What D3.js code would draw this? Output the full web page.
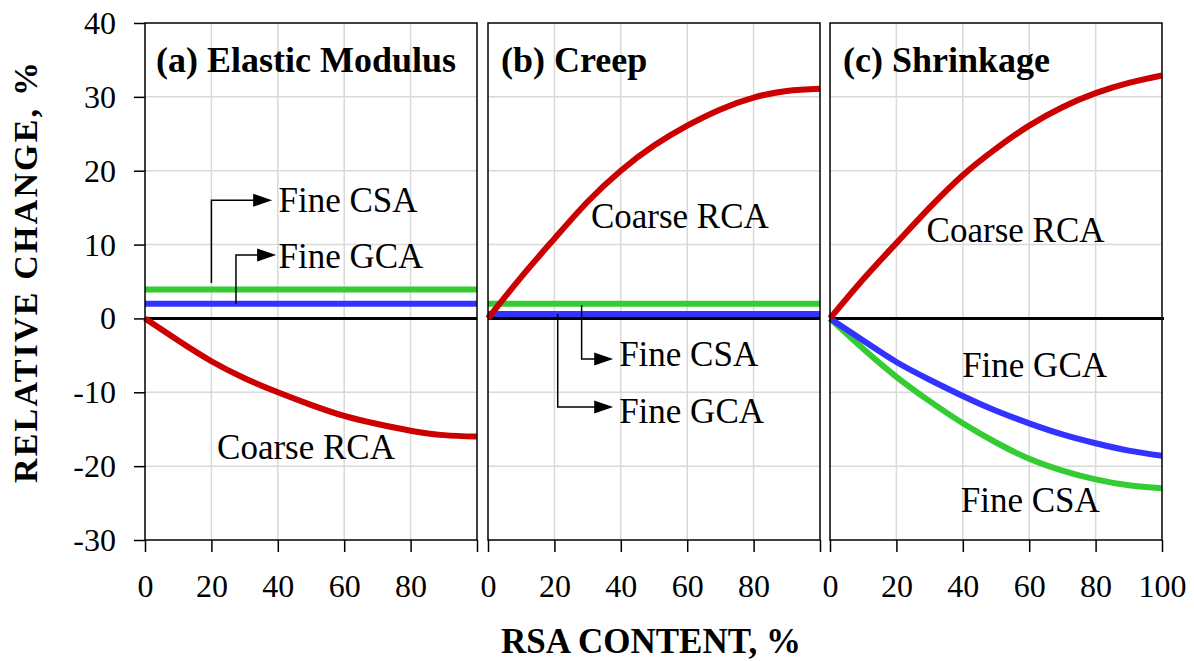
<!DOCTYPE html>
<html>
<head>
<meta charset="utf-8">
<script src="https://cdn.jsdelivr.net/npm/d3@7"></script>
<style>
  html, body { margin: 0; padding: 0; background: #fff; }
  svg { display: block; }
  svg text { font-family: 'Liberation Serif', 'Times New Roman', serif !important; fill: #000; }
</style>
</head>
<body>
<svg id="chart" width="1194" height="661"></svg>
<script>
// ---------------- data ----------------
const rsaContent = [0, 10, 20, 30, 40, 50, 60, 70, 80, 90, 100];
const panelTitles = ["(a) Elastic Modulus", "(b) Creep", "(c) Shrinkage"];
const seriesNames = ["Coarse RCA", "Fine GCA", "Fine CSA"];

// (a) Elastic Modulus
const elasticCoarseRCA = [0, -3.0, -5.8, -8.1, -10.0, -11.7, -13.2, -14.3, -15.2, -15.8, -16.0];
const elasticFineGCA   = [2.0, 2.0, 2.0, 2.0, 2.0, 2.0, 2.0, 2.0, 2.0, 2.0, 2.0];
const elasticFineCSA   = [3.9, 3.9, 3.9, 3.9, 3.9, 3.9, 3.9, 3.9, 3.9, 3.9, 3.9];
// (b) Creep
const creepCoarseRCA = [0, 5.6, 10.8, 15.8, 20.0, 23.4, 26.1, 28.3, 29.9, 30.8, 31.1];
const creepFineGCA   = [0.6, 0.6, 0.6, 0.6, 0.6, 0.6, 0.6, 0.6, 0.6, 0.6, 0.6];
const creepFineCSA   = [2.0, 2.0, 2.0, 2.0, 2.0, 2.0, 2.0, 2.0, 2.0, 2.0, 2.0];
// (c) Shrinkage
const shrinkCoarseRCA = [0, 5.3, 10.2, 15.0, 19.4, 23.0, 26.1, 28.6, 30.5, 31.9, 32.9];
const shrinkFineGCA   = [0, -3.0, -5.9, -8.3, -10.5, -12.5, -14.2, -15.7, -16.9, -17.9, -18.6];
const shrinkFineCSA   = [0, -4.1, -7.9, -11.2, -14.2, -16.8, -19.0, -20.6, -21.8, -22.6, -23.0];

const xTickValues = [0, 20, 40, 60, 80, 100];
const yTickValues = [-30, -20, -10, 0, 10, 20, 30, 40];
const xTickLabelsShown = [[0, 20, 40, 60, 80], [0, 20, 40, 60, 80], [0, 20, 40, 60, 80, 100]];

const xTitle = "RSA CONTENT, %";
const yTitle = "RELATIVE CHANGE, %";

const colors = { "Coarse RCA": "#cc0000", "Fine GCA": "#3333ff", "Fine CSA": "#33cc33" };

const panelSeries = [
  { "Coarse RCA": elasticCoarseRCA, "Fine GCA": elasticFineGCA, "Fine CSA": elasticFineCSA },
  { "Coarse RCA": creepCoarseRCA,   "Fine GCA": creepFineGCA,   "Fine CSA": creepFineCSA },
  { "Coarse RCA": shrinkCoarseRCA,  "Fine GCA": shrinkFineGCA,  "Fine CSA": shrinkFineCSA }
];

// annotation layout (data coordinates of each panel)
const panelLabels = [
  [ { text: "Fine CSA", x: 40.2, y: 14.4 }, { text: "Fine GCA", x: 40.2, y: 6.8 }, { text: "Coarse RCA", x: 21.7, y: -19.0 } ],
  [ { text: "Coarse RCA", x: 31.0, y: 12.3 }, { text: "Fine CSA", x: 39.5, y: -6.5 }, { text: "Fine GCA", x: 39.5, y: -14.2 } ],
  [ { text: "Coarse RCA", x: 29.1, y: 10.4 }, { text: "Fine GCA", x: 39.8, y: -7.9 }, { text: "Fine CSA", x: 39.4, y: -26.2 } ]
];
// elbow arrows: start [x0,y0], corner [x0,y1], tip [x2,y1]
const panelArrows = [
  [ { x0: 20.0, y0: 4.8, y1: 16.0, x2: 38.3 }, { x0: 27.4, y0: 2.0, y1: 8.6, x2: 39.5 } ],
  [ { x0: 28.2, y0: 1.8, y1: -5.5, x2: 37.7 }, { x0: 21.0, y0: 0.6, y1: -12.0, x2: 37.7 } ],
  []
];

// ---------------- layout ----------------
const FONT = "'Liberation Serif', 'Times New Roman', serif";
const svg = d3.select("#chart");
const plotTop = 23, plotBottom = 540;
const panelLefts = [145, 488, 830];
const panelWidth = 332;

const y = d3.scaleLinear().domain([-30, 40]).range([plotBottom, plotTop]);

panelTitles.forEach((title, i) => {
  const left = panelLefts[i];
  const x = d3.scaleLinear().domain([0, 100]).range([left, left + panelWidth]);
  const g = svg.append("g");

  // grid
  g.append("g").selectAll("line")
    .data(xTickValues.filter(v => v > 0 && v < 100))
    .join("line")
    .attr("x1", d => x(d)).attr("x2", d => x(d))
    .attr("y1", plotTop).attr("y2", plotBottom)
    .attr("stroke", "#d9d9d9").attr("stroke-width", 1.5);
  g.append("g").selectAll("line")
    .data(yTickValues.filter(v => v > -30 && v < 40 && v !== 0))
    .join("line")
    .attr("x1", x(0)).attr("x2", x(100))
    .attr("y1", d => y(d)).attr("y2", d => y(d))
    .attr("stroke", "#d9d9d9").attr("stroke-width", 1.5);

  // zero line
  g.append("line")
    .attr("x1", x(0)).attr("x2", x(100) + (i === 2 ? 2 : 0))
    .attr("y1", y(0)).attr("y2", y(0))
    .attr("stroke", "#000").attr("stroke-width", 3);

  // x axis
  const xAxis = d3.axisBottom(x)
    .tickValues(xTickValues)
    .tickSize(12)
    .tickPadding(22)
    .tickFormat(d => xTickLabelsShown[i].includes(d) ? String(d) : "");
  const xa = g.append("g").attr("transform", `translate(0,${plotBottom})`).call(xAxis)
    .attr("font-family", FONT).attr("font-size", 32);
  xa.select(".domain").remove();
  xa.selectAll(".tick line").attr("stroke", "#000").attr("stroke-width", 1.5);
  xa.selectAll(".tick text").attr("fill", "#000");

  // y axis (first panel only)
  if (i === 0) {
    const yAxis = d3.axisLeft(y).tickValues(yTickValues).tickSize(11).tickPadding(18).tickFormat(d => String(d));
    const ya = g.append("g").attr("transform", `translate(${left},0)`).call(yAxis)
      .attr("font-family", FONT).attr("font-size", 32);
    ya.select(".domain").remove();
    ya.selectAll(".tick line").attr("stroke", "#000").attr("stroke-width", 1.5);
    ya.selectAll(".tick text").attr("fill", "#000").attr("dy", "0.33em");
  }

  // series lines (green, blue, then red on top)
  const line = d3.line().x((d, k) => x(rsaContent[k])).y(d => y(d)).curve(d3.curveNatural);
  ["Fine CSA", "Fine GCA", "Coarse RCA"].forEach(name => {
    g.append("path")
      .datum(panelSeries[i][name])
      .attr("d", line)
      .attr("fill", "none")
      .attr("stroke", colors[name])
      .attr("stroke-width", 6)
      .attr("stroke-linejoin", "round");
  });

  // border
  g.append("rect")
    .attr("x", x(0)).attr("y", plotTop)
    .attr("width", x(100) - x(0)).attr("height", plotBottom - plotTop)
    .attr("fill", "none").attr("stroke", "#000").attr("stroke-width", 1.5);

  // arrows
  panelArrows[i].forEach(a => {
    const tipX = x(a.x2), yy = y(a.y1);
    g.append("path")
      .attr("d", `M${x(a.x0)},${y(a.y0)} L${x(a.x0)},${yy} L${tipX - 17},${yy}`)
      .attr("fill", "none").attr("stroke", "#000").attr("stroke-width", 1.5);
    g.append("path")
      .attr("d", `M${tipX},${yy} L${tipX - 19},${yy - 6.5} L${tipX - 19},${yy + 6.5} Z`)
      .attr("fill", "#000");
  });

  // labels
  panelLabels[i].forEach(l => {
    g.append("text")
      .attr("x", x(l.x)).attr("y", y(l.y))
      .attr("font-family", FONT).attr("font-size", 35)
      .text(l.text);
  });

  // panel title
  g.append("text")
    .attr("x", left + (i === 0 ? 11 : 13)).attr("y", 72)
    .attr("font-family", FONT).attr("font-size", 36).attr("font-weight", "bold")
    .text(title);
});

// axis titles
svg.append("text")
  .attr("x", 651).attr("y", 653)
  .attr("text-anchor", "middle")
  .attr("font-family", FONT).attr("font-size", 35).attr("font-weight", "bold")
  .text(xTitle);

svg.append("text")
  .attr("transform", "translate(37,483) rotate(-90)")
  .attr("x", 0).attr("y", 0)
  .attr("textLength", 421).attr("lengthAdjust", "spacing")
  .attr("font-family", FONT).attr("font-size", 34).attr("font-weight", "bold")
  .text(yTitle);
</script>
</body>
</html>
